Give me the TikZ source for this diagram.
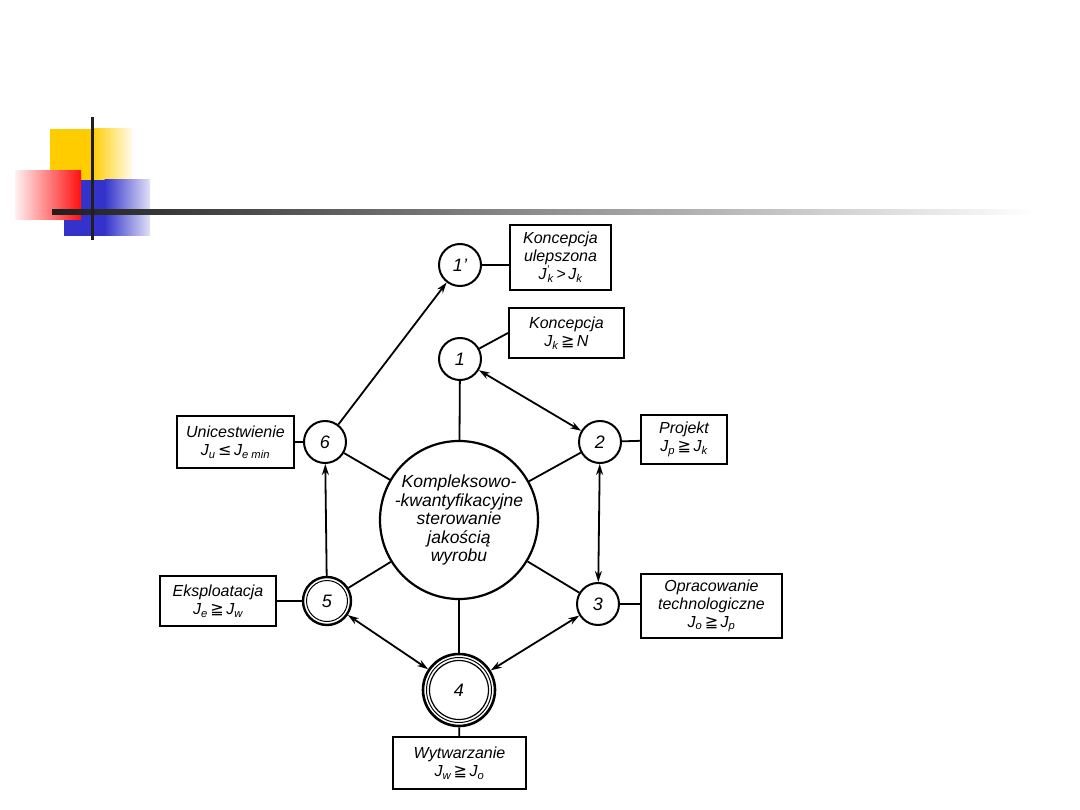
\documentclass[tikz,border=0pt]{standalone}
\usepackage{fontspec}
\setmainfont{Liberation Sans}
\newfontfamily\symf{DejaVu Sans}
\usetikzlibrary{arrows.meta}
\newcommand\mygq{{\symf\upshape\kern2.5pt≧\kern2.5pt}}
\newcommand\mylq{{\symf\upshape\kern2.5pt≤\kern2.5pt}}
\newcommand\Jp[1]{J\textsuperscript{’}\kern-2pt\textsubscript{#1}}
\tikzset{
  circ/.style={circle, draw, line width=2pt, minimum size=42pt, inner sep=0pt, font=\itshape\fontsize{18}{18}\selectfont},
  box/.style={draw, line width=2.1pt, inner sep=0pt, align=center, font=\itshape\fontsize{16}{18}\selectfont},
  conn/.style={line width=1.8pt},
  arr/.style={conn, -{Stealth[length=11pt,width=7pt]}},
  darr/.style={conn, {Stealth[length=11pt,width=7pt]}-{Stealth[length=11pt,width=7pt]}},
}
\definecolor{decoY}{HTML}{FFCC00}
\definecolor{decoB}{HTML}{3333CC}
\definecolor{decoR}{HTML}{FF1010}
\begin{document}
\begin{tikzpicture}[x=1pt,y=-1pt]
\useasboundingbox[fill=white] (0,0) rectangle (1080,810);
% decoration
\fill[decoY] (50,129) rectangle (92,210);
\shade[left color=decoY, right color=decoY!8] (91.5,129) rectangle (132,210);
\fill[decoB] (64,180) rectangle (105,236);
\shade[left color=decoB, right color=decoB!15] (104.5,180) rectangle (150,236);
\shade[left color=decoR!6, right color=decoR] (15,171) rectangle (81,220);
\shade[left color=black!88, right color=white] (52,209.5) rectangle (1035,214.5);
\fill[black!88] (90.5,117) rectangle (93.5,240);
% nodes
\node[circ] (n1p) at (460,265) {1’};
\node[circ] (n1) at (460,359) {1};
\node[circ] (n2) at (600,442) {2};
\node[circ] (n3) at (598,604) {3};
\node[circ] (n6) at (325,442) {6};
\node[circ, line width=2.4pt, minimum size=48pt] (n5) at (327,601) {5};
\draw[line width=1pt] (n5.center) circle (20.5);
\node[circ, line width=2.6pt, minimum size=72pt] (n4) at (459,690) {4};
\draw[line width=1pt] (n4.center) circle (32.5);
\draw[line width=1.2pt] (n4.center) circle (29.5);
\node[circle, draw, line width=2.2pt, minimum size=158pt, inner sep=0pt, align=center,
  font=\itshape\fontsize{17.5}{18.5}\selectfont] (c) at (459,520)
  {Kompleksowo-\\-kwantyfikacyjne\\sterowanie\\jakością\\wyrobu};
% boxes
\node[box, minimum width=101pt, minimum height=65pt] (b1p) at (560.5,257.5)
  {Koncepcja\\ulepszona\\\Jp{k}\,>\,J\textsubscript{k}};
\node[box, minimum width=115pt, minimum height=50pt] (b1) at (566.5,333)
  {Koncepcja\\J\textsubscript{k}\mygq N};
\node[box, minimum width=86pt, minimum height=49pt] (bP) at (684,439.5)
  {Projekt\\J\textsubscript{p}\mygq J\textsubscript{k}};
\node[box, minimum width=117pt, minimum height=52pt] (bU) at (235.5,442)
  {Unicestwienie\\J\textsubscript{u}\mylq J\textsubscript{e min}};
\node[box, minimum width=116pt, minimum height=50pt] (bE) at (218,601)
  {Eksploatacja\\J\textsubscript{e}\mygq J\textsubscript{w}};
\node[box, minimum width=141pt, minimum height=64pt] (bO) at (711.5,606)
  {Opracowanie\\technologiczne\\J\textsubscript{o}\mygq J\textsubscript{p}};
\node[box, minimum width=133pt, minimum height=52pt] (bW) at (459.5,763)
  {Wytwarzanie\\J\textsubscript{w}\mygq J\textsubscript{o}};
% connectors to boxes
\draw[conn] (n1p.east) -- (n1p.east -| b1p.west);
\draw[conn] (n1) -- (b1.west);
\draw[conn] (n2) -- (bP);
\draw[conn] (n3.east) -- (n3.east -| bO.west);
\draw[conn] (n4) -- (bW);
\draw[conn] (n5) -- (bE);
\draw[conn] (n6) -- (bU);
% connectors to centre
\draw[conn] (n1) -- (c);
\draw[conn] (n2) -- (c);
\draw[conn] (n3) -- (c);
\draw[conn] (n4) -- (c);
\draw[conn] (n5) -- (c);
\draw[conn] (n6) -- (c);
% arrows
\draw[darr] (n1) -- (n2);
\draw[darr] (n2) -- (n3);
\draw[darr] (n3) -- (n4);
\draw[darr] (n5) -- (n4);
\draw[arr] (n5) -- (n6);
\draw[arr] (n6) -- (n1p);
\end{tikzpicture}
\end{document}
